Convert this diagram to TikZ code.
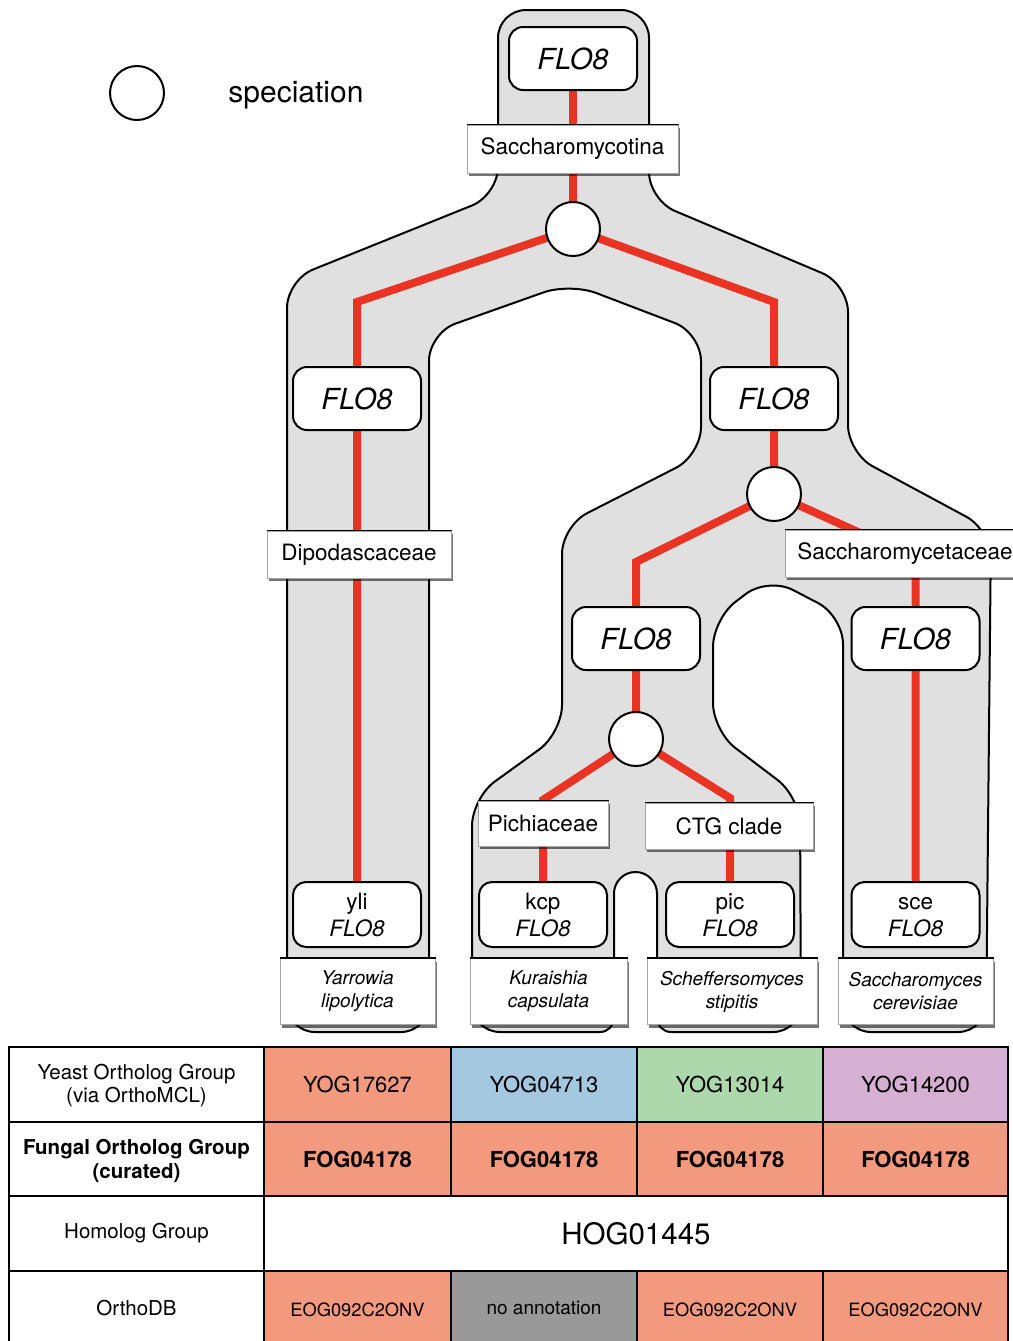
\documentclass[tikz,border=0pt]{standalone}
\usepackage{fontspec}
\setmainfont{TeX Gyre Heros}
\usetikzlibrary{shadows}
\pgfdeclarelayer{shapelayer}
\pgfdeclarelayer{wirelayer}
\pgfsetlayers{shapelayer,wirelayer,main}
\definecolor{treegray}{HTML}{E0E0E0}
\definecolor{treered}{HTML}{EB3323}
\definecolor{salmon}{HTML}{F3997E}
\definecolor{cellblue}{HTML}{A3C8E0}
\definecolor{cellgreen}{HTML}{ADD8AC}
\definecolor{cellpurple}{HTML}{D5B0D3}
\definecolor{cellgray}{HTML}{999999}
\begin{document}
\begin{tikzpicture}[x=0.5pt,y=-0.5pt,
  gene/.style={draw=black,line width=1pt,fill=white,rounded corners=7pt,inner sep=0pt,minimum height=31.5pt,minimum width=64pt,font=\fontsize{14.5pt}{17pt}\selectfont\itshape},
  leaf/.style={draw=black,line width=1pt,fill=white,rounded corners=6.5pt,inner sep=0pt,minimum height=32.5pt,minimum width=64pt,align=center,font=\fontsize{11.25pt}{13.5pt}\selectfont},
  taxon/.style={draw=black!35,line width=0.5pt,fill=white,inner sep=0pt,font=\fontsize{11.25pt}{13.5pt}\selectfont,drop shadow={shadow xshift=1pt,shadow yshift=-1.5pt,opacity=0.55,fill=black}},
  species/.style={taxon,align=center,minimum height=33pt,font=\fontsize{9.5pt}{11.5pt}\selectfont\itshape},
  spec/.style={circle,draw=black,line width=1pt,fill=white,minimum size=27pt,inner sep=0pt},
  redline/.style={draw=treered,line width=4pt},
  treeshape/.style={fill=treegray,draw=black,line width=1pt},
  cell/.style={inner sep=0pt,align=center,font=\fontsize{11pt}{13pt}\selectfont},
  rowhead/.style={inner sep=0pt,align=center,font=\fontsize{10.25pt}{11.75pt}\selectfont},
  tablerule/.style={draw=black,line width=1pt}
]
\useasboundingbox (0,0) rectangle (1013,1341);

% legend
\node[spec] (legendcircle) at (137,93) {};
\node[anchor=west,inner sep=0pt,font=\fontsize{15pt}{18pt}\selectfont] (legendtext) at (228,95) {speciation};

% gray tree shape
\begin{pgfonlayer}{shapelayer}
\draw[treeshape,rounded corners=14pt]
 (498,100) -- (498,10) -- (649,10) -- (649,200) -- (848,284) -- (848,453)
 -- (991,530) -- (986,1032) -- (843,1032) -- (843,616) -- (768,577)
 -- (713,619) -- (713,731) -- (800,797) -- (801,1032)
 -- (472,1032) -- (472,798) -- (562,733) -- (562,526)
 -- (701,455) -- (701,333) -- (570,283) -- (429,333) -- (429,1032)
 -- (287,1032) -- (287,280) -- (498,195) -- cycle;
% notch between the kcp and pic columns
\fill[white] (600,1040) -- (600,1032) arc[start angle=90,end angle=0,radius=14]
 -- (614,893.5) arc[start angle=180,end angle=360,radius=21.5]
 -- (657,1018) arc[start angle=180,end angle=90,radius=14] -- (671,1040) -- cycle;
\draw[line width=1pt] (600,1032) arc[start angle=90,end angle=0,radius=14]
 -- (614,893.5) arc[start angle=180,end angle=360,radius=21.5]
 -- (657,1018) arc[start angle=180,end angle=90,radius=14];
\end{pgfonlayer}

% nodes
\node[gene] (F0) at (573,58.5) {FLO8};
\node[taxon,minimum width=105.5pt,minimum height=24pt] (T0) at (572.5,149) {Saccharomycotina};
\node[spec] (S1) at (573,229) {};
\node[gene] (F1) at (357,398.5) {FLO8};
\node[gene] (F2) at (774,398.5) {FLO8};
\node[taxon,minimum width=92pt,minimum height=23.5pt] (T1) at (359,554.5) {Dipodascaceae};
\node[spec] (S2) at (774,494) {};
\node[taxon,minimum width=120pt,minimum height=23.5pt] (T2) at (905,553.5) {Saccharomycetaceae};
\node[gene] (M1) at (636,638.5) {FLO8};
\node[gene] (M2) at (915.5,638.5) {FLO8};
\node[spec] (S3) at (636,739) {};
\node[taxon,minimum width=65pt,minimum height=22.5pt] (T3) at (543,823.5) {Pichiaceae};
\node[taxon,minimum width=84pt,minimum height=23pt] (T4) at (729,826) {CTG clade};
\node[leaf] (L1) at (357,914.5) {\vphantom{kp}yli\\\textit{FLO8}};
\node[leaf] (L2) at (543,914.5) {\vphantom{kp}kcp\\\textit{FLO8}};
\node[leaf] (L3) at (730,914.5) {\vphantom{kp}pic\\\textit{FLO8}};
\node[leaf] (L4) at (915.5,914.5) {\vphantom{kp}sce\\\textit{FLO8}};
\node[species,minimum width=77.5pt] (Y1) at (357.5,991.5) {Yarrowia\\lipolytica};
\node[species,minimum width=78.5pt] (Y2) at (548.5,991.5) {Kuraishia\\capsulata};
\node[species,minimum width=85pt] (Y3) at (732,991.5) {Scheffersomyces\\stipitis};
\node[species,minimum width=77.5pt] (Y4) at (915.5,991.5) {Saccharomyces\\cerevisiae};
\foreach \n in {T0,T1,T2,T3,T4,Y1,Y2,Y3,Y4}
  \draw[line width=0.8pt] (\n.north west) -- (\n.north east);

% red gene lineages
\begin{pgfonlayer}{wirelayer}
\draw[redline] (F0.center) -- (S1.center);
\draw[redline] (S1.center) -- (357,302) -- (F1.center) -- (L1.center);
\draw[redline] (S1.center) -- (774,302) -- (F2.center) -- (S2.center);
\draw[redline] (S2.center) -- (636,562) -- (M1.center) -- (S3.center);
\draw[redline] (S2.center) -- (915.5,558) -- (M2.center) -- (L4.center);
\draw[redline] (S3.center) -- (543,800) -- (L2.center);
\draw[redline] (S3.center) -- (730,798) -- (L3.center);
\end{pgfonlayer}

% table
\fill[salmon] (264,1047) rectangle (1008,1196);
\fill[cellblue] (451,1047) rectangle (637,1122);
\fill[cellgreen] (637,1047) rectangle (823,1122);
\fill[cellpurple] (823,1047) rectangle (1008,1122);
\fill[salmon] (264,1271) rectangle (1008,1346);
\fill[cellgray] (451,1271) rectangle (637,1346);
\draw[tablerule] (9,1047) rectangle (1008,1346);
\draw[tablerule] (9,1122) -- (1008,1122) (9,1196) -- (1008,1196) (9,1271) -- (1008,1271);
\draw[tablerule] (264,1047) -- (264,1346);
\foreach \x in {451,637,823}
  \draw[tablerule] (\x,1047) -- (\x,1196) (\x,1271) -- (\x,1346);

\node[rowhead] (h1) at (136.5,1085.5) {Yeast Ortholog Group\\(via OrthoMCL)};
\node[rowhead,font=\fontsize{10.25pt}{12pt}\selectfont\bfseries] (h2) at (136.5,1160.5) {Fungal Ortholog Group\\(curated)};
\node[rowhead] (h3) at (136.5,1233.5) {Homolog Group};
\node[rowhead] (h4) at (136.5,1308) {OrthoDB};

\node[cell] (a1) at (357.5,1084.5) {YOG17627};
\node[cell] (a2) at (544,1084.5) {YOG04713};
\node[cell] (a3) at (730,1084.5) {YOG13014};
\node[cell] (a4) at (915.5,1084.5) {YOG14200};
\foreach \x/\n in {357.5/b1,544/b2,730/b3,915.5/b4}
  \node[cell,font=\fontsize{11pt}{13pt}\selectfont\bfseries] (\n) at (\x,1159) {FOG04178};
\node[cell,font=\fontsize{14.75pt}{17pt}\selectfont] (c1) at (636,1233.5) {HOG01445};
\node[cell,font=\fontsize{9.15pt}{11pt}\selectfont] (d1) at (357.5,1310) {EOG092C2ONV};
\node[cell,font=\fontsize{9.5pt}{11pt}\selectfont] (d2) at (544,1308) {no annotation};
\node[cell,font=\fontsize{9.15pt}{11pt}\selectfont] (d3) at (730,1310) {EOG092C2ONV};
\node[cell,font=\fontsize{9.15pt}{11pt}\selectfont] (d4) at (915.5,1310) {EOG092C2ONV};
\end{tikzpicture}
\end{document}
